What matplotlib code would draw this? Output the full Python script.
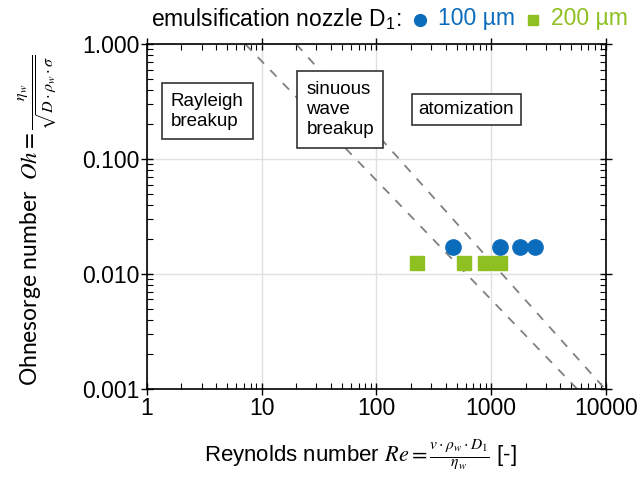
import matplotlib
matplotlib.use("Agg")
import matplotlib.pyplot as plt
from matplotlib.offsetbox import TextArea, DrawingArea, HPacker, AnchoredOffsetbox
from matplotlib.lines import Line2D

plt.rcParams['font.family'] = ['Liberation Sans', 'DejaVu Sans']
plt.rcParams['mathtext.fontset'] = 'stix'

# data
re_100 = [468, 1200, 1790, 2410]
oh_100 = [0.0172, 0.0172, 0.0172, 0.0172]
re_200 = [227, 582, 887, 1197]
oh_200 = [0.0125, 0.0125, 0.0125, 0.0125]

# regime boundaries (endpoints in data coords)
line1_re = [7.2, 5600]
line1_oh = [1.0, 0.001]
line2_re = [20, 9800]
line2_oh = [1.0, 0.001]

xticks = [1, 10, 100, 1000, 10000]
xticklabels = ["1", "10", "100", "1000", "10000"]
yticks = [0.001, 0.01, 0.1, 1]
yticklabels = ["0.001", "0.010", "0.100", "1.000"]

blue = '#0b6cbc'
green = '#8dc020'

fig = plt.figure(figsize=(6.44, 4.79), dpi=100)
ax = fig.add_axes([0.228, 0.188, 0.713, 0.720])
ax.set_xscale('log')
ax.set_yscale('log')
ax.set_xlim(1, 10000)
ax.set_ylim(0.001, 1)

ax.grid(True, which='major', color='#e0e0e0', lw=1.0)
ax.set_axisbelow(True)

ax.plot(line1_re, line1_oh, ls=(0, (5, 5)), color='#808080', lw=1.3)
ax.plot(line2_re, line2_oh, ls=(0, (5, 5)), color='#808080', lw=1.3)

ax.plot(re_100, oh_100, 'o', color=blue, ms=11, mec=blue, zorder=5)
ax.plot(re_200, oh_200, 's', color=green, ms=10, mec=green, zorder=4)

ax.set_xticks(xticks)
ax.set_xticklabels(xticklabels)
ax.set_yticks(yticks)
ax.set_yticklabels(yticklabels)
ax.tick_params(which='major', direction='inout', length=8, width=1.0, labelsize=16.5,
               top=True, right=True, pad=1)
ax.tick_params(which='minor', direction='in', length=4, width=0.8, top=True, right=True)
ax.tick_params(axis='x', which='major', pad=2)
for s in ax.spines.values():
    s.set_linewidth(1.2)

box = dict(boxstyle='square,pad=0.5', fc='white', ec='#333333', lw=1.2)
ax.text(1.62, 0.26, "Rayleigh\nbreakup", fontsize=13.5, ha='left', va='center',
        linespacing=1.25, bbox=box)
ax.text(24.5, 0.27, "sinuous\nwave\nbreakup", fontsize=13.5, ha='left', va='center',
        linespacing=1.25, bbox=box)
ax.text(232, 0.27, "atomization", fontsize=13.5, ha='left', va='center',
        bbox=dict(boxstyle='square,pad=0.35', fc='white', ec='#333333', lw=1.2))

fig.text(0.56, 0.05,
         r"Reynolds number $Re=\frac{v\cdot\rho_w\cdot D_1}{\eta_w}$ [-]",
         fontsize=16, ha='center', va='center')
fig.text(0.058, 0.54,
         r"Ohnesorge number  $Oh=\frac{\eta_w}{\sqrt{D\cdot\rho_w\cdot\sigma}}$",
         fontsize=16.5, ha='center', va='center', rotation=90,
         family=['Lato', 'DejaVu Sans'])

# header legend
def marker_box(marker, color, ms):
    da = DrawingArea(12, 12, 0, 0)
    da.add_artist(Line2D([6], [5], marker=marker, color=color, ms=ms, mec=color))
    return da

items = [
    TextArea(r"emulsification nozzle D$_\mathregular{1}$:", textprops=dict(fontsize=16.5, color='black')),
    marker_box('o', blue, 8.5),
    TextArea("100 µm", textprops=dict(fontsize=16.5, color=blue)),
    marker_box('s', green, 7.5),
    TextArea("200 µm", textprops=dict(fontsize=16.5, color=green)),
]
pack = HPacker(children=items, align='center', pad=0, sep=7)
anc = AnchoredOffsetbox(loc='center', child=pack, frameon=False,
                        bbox_to_anchor=(0.605, 0.962), bbox_transform=fig.transFigure,
                        borderpad=0, pad=0)
fig.add_artist(anc)

fig.savefig("out.png", dpi=100)
